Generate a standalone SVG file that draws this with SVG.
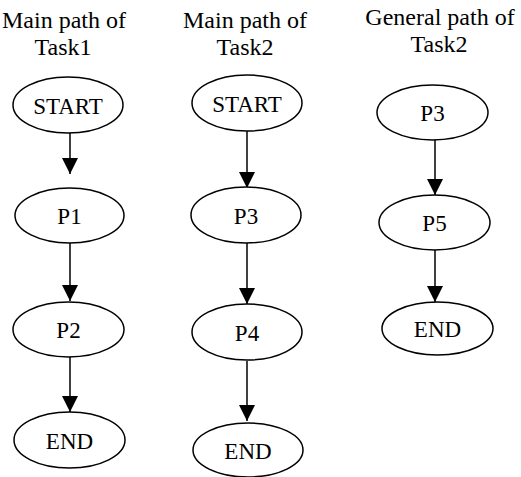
<svg xmlns="http://www.w3.org/2000/svg" width="521" height="477" viewBox="0 0 521 477">
<style>
.n{fill:#fff;stroke:#000;stroke-width:1.5}
.t{font-family:"Liberation Serif","Times New Roman",serif;font-size:23px;fill:#000;text-anchor:middle}
.h{font-size:24px}
.e{stroke:#000;stroke-width:1.5;fill:none}
</style>
<defs>
<marker id="ah" markerUnits="userSpaceOnUse" markerWidth="16" markerHeight="16" refX="16" refY="8" orient="auto" viewBox="0 0 16 16">
<path d="M0,0 L16,8 L0,16 Z" fill="#000"/>
</marker>
</defs>
<rect width="521" height="477" fill="#fff"/>
<g id="titles">
<text class="t h" x="64" y="28">Main path of</text>
<text class="t h" x="63" y="55">Task1</text>
<text class="t h" x="245" y="28">Main path of</text>
<text class="t h" x="245" y="55">Task2</text>
<text class="t h" x="440" y="25">General path of</text>
<text class="t h" x="439" y="52">Task2</text>
</g>
<g id="connectors">
<line class="e" x1="70" y1="133" x2="70" y2="174" marker-end="url(#ah)"/>
<line class="e" x1="70" y1="243" x2="70" y2="301" marker-end="url(#ah)"/>
<line class="e" x1="70" y1="357" x2="70" y2="412" marker-end="url(#ah)"/>
<line class="e" x1="247" y1="131" x2="247" y2="188" marker-end="url(#ah)"/>
<line class="e" x1="247" y1="243" x2="247" y2="304" marker-end="url(#ah)"/>
<line class="e" x1="247" y1="361" x2="247" y2="421" marker-end="url(#ah)"/>
<line class="e" x1="435" y1="140" x2="435" y2="195" marker-end="url(#ah)"/>
<line class="e" x1="435" y1="250" x2="435" y2="302" marker-end="url(#ah)"/>
</g>
<g id="t1-start"><ellipse class="n" cx="68" cy="105" rx="55" ry="28"/><text class="t" x="68" y="114">START</text></g>
<g id="t1-p1"><ellipse class="n" cx="69.5" cy="215.5" rx="54.5" ry="27.5"/><text class="t" x="69.5" y="224">P1</text></g>
<g id="t1-p2"><ellipse class="n" cx="68.5" cy="329.5" rx="55.5" ry="27.5"/><text class="t" x="68.5" y="338">P2</text></g>
<g id="t1-end"><ellipse class="n" cx="69.5" cy="440" rx="55.5" ry="28"/><text class="t" x="69.5" y="448.5">END</text></g>
<g id="t2-start"><ellipse class="n" cx="247" cy="103" rx="55" ry="28"/><text class="t" x="247" y="112">START</text></g>
<g id="t2-p3"><ellipse class="n" cx="246" cy="215" rx="55" ry="28"/><text class="t" x="246" y="224">P3</text></g>
<g id="t2-p4"><ellipse class="n" cx="247" cy="332" rx="55" ry="28"/><text class="t" x="247" y="341">P4</text></g>
<g id="t2-end"><ellipse class="n" cx="248" cy="450" rx="55" ry="27"/><text class="t" x="248" y="459">END</text></g>
<g id="g2-p3"><ellipse class="n" cx="432.5" cy="112.5" rx="55.5" ry="27.5"/><text class="t" x="432.5" y="121">P3</text></g>
<g id="g2-p5"><ellipse class="n" cx="434.5" cy="222.5" rx="55.5" ry="27.5"/><text class="t" x="434.5" y="231">P5</text></g>
<g id="g2-end"><ellipse class="n" cx="437.5" cy="328.5" rx="55.5" ry="26.5"/><text class="t" x="437.5" y="337">END</text></g>
</svg>
